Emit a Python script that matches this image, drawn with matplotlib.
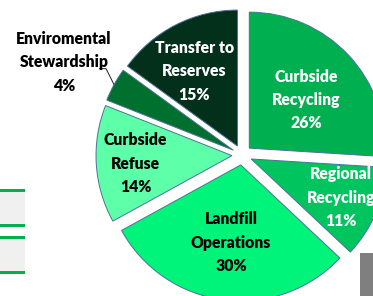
#!/usr/bin/env python3
"""Exploded budget pie, cropped like the slide screenshot."""
import numpy as np
import matplotlib
matplotlib.use("Agg")
import matplotlib.pyplot as plt
from matplotlib.patches import Rectangle

# data, clockwise from 12 o'clock
labels = ["Curbside\nRecycling", "Regional\nRecycling", "Landfill\nOperations",
          "Curbside\nRefuse", "Enviromental\nStewardship", "Transfer to\nReserves"]
shares = [26, 11, 30, 14, 4, 15]

colors = ["#00B050", "#00C55E", "#00F47A", "#5EFFA9", "#00702F", "#03301A"]
text_colors = ["white", "white", "black", "black", "black", "white"]
label_dist = [0.55, 0.72, 0.57, 0.71, 1.42, 0.65]  # fraction of radius
label_nudge = [(2, -3), (0, 0), (0, -1), (0, -2), (0, -5), (-3, -4)]  # pixels

W, H = 373, 296
CX, CY, R = 242, 141, 136
GAP = 10  # explode offset in pixels (pie does not scale it by radius)

plt.rcParams["font.family"] = ["Lato", "DejaVu Sans"]

fig = plt.figure(figsize=(W / 100, H / 100), dpi=100)
ax = fig.add_axes([0, 0, 1, 1])

wedges, _ = ax.pie(shares, colors=colors, startangle=90, counterclock=False,
                   center=(CX, CY), radius=R, explode=[GAP] * len(shares),
                   wedgeprops={"edgecolor": "#4A7397", "linewidth": 0.7},
                   frame=True)
ax.set_xlim(0, W)
ax.set_ylim(0, H)
ax.set_aspect("equal")
ax.set_axis_off()

for w, lab, s, tc, d, (nx, ny) in zip(wedges, labels, shares, text_colors,
                                      label_dist, label_nudge):
    ang = np.deg2rad((w.theta1 + w.theta2) / 2)
    cx, cy = w.center
    x = cx + d * R * np.cos(ang) + nx
    y = cy + d * R * np.sin(ang) + ny
    ax.text(x, y, f"{lab}\n{s}%", ha="center", va="center", color=tc,
            fontsize=11.3, fontweight="heavy", linespacing=1.57)
    if d > 1:
        # leader line from the arc to the outside label
        ex = cx + R * np.cos(ang)
        ey = cy + R * np.sin(ang)
        ax.plot([ex, ex - 8, ex - 15], [ey, ey + 16, ey + 16],
                color="#222222", lw=0.7, solid_capstyle="butt")

# bits of neighbouring slide elements that the crop catches
for y0 in (H - 225, H - 272):
    ax.add_patch(Rectangle((0, y0), 25, 34, facecolor="#F0F0F0", edgecolor="none"))
    ax.add_patch(Rectangle((0, y0 + 33), 25, 3, facecolor="#00B050", edgecolor="none"))
    ax.add_patch(Rectangle((0, y0 - 2), 25, 3, facecolor="#00B050", edgecolor="none"))
ax.add_patch(Rectangle((360, 0), 13, H - 253, facecolor="#7F7F7F", edgecolor="none"))

fig.savefig("out.png", dpi=100)
